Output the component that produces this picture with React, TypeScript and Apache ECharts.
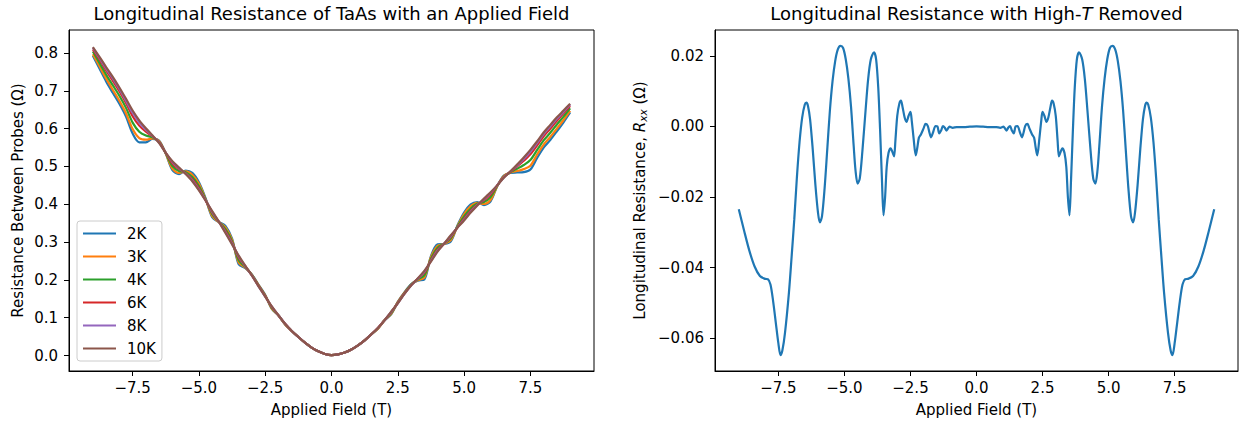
import React, { useEffect, useRef } from "react";
import * as echarts from "echarts";

// ---------- Left panel data ----------
const fieldL = [
  -9, -8.75, -8.5, -8.25, -8, -7.75, -7.5, -7.25, -7, -6.75, -6.5, -6.25,
  -6, -5.75, -5.5, -5.25, -5, -4.75, -4.5, -4.25, -4, -3.75, -3.5, -3.25,
  -3, -2.75, -2.5, -2.25, -2, -1.75, -1.5, -1.25, -1, -0.75, -0.5, -0.25,
  0, 0.25, 0.5, 0.75, 1, 1.25, 1.5, 1.75, 2, 2.25, 2.5, 2.75,
  3, 3.25, 3.5, 3.75, 4, 4.25, 4.5, 4.75, 5, 5.25, 5.5, 5.75,
  6, 6.25, 6.5, 6.75, 7, 7.25, 7.5, 7.75, 8, 8.25, 8.5, 8.75, 9,
];

const temps = ["2K", "3K", "4K", "6K", "8K", "10K"];

const r2K = [
  0.793, 0.759, 0.725, 0.695, 0.666, 0.632, 0.587, 0.564, 0.564, 0.573, 0.568, 0.534,
  0.490, 0.480, 0.489, 0.483, 0.458, 0.416, 0.366, 0.353, 0.343, 0.309, 0.241, 0.231,
  0.214, 0.187, 0.160, 0.123, 0.106, 0.082, 0.065, 0.049, 0.034, 0.021, 0.011, 0.004,
  0.001, 0.003, 0.008, 0.016, 0.027, 0.040, 0.056, 0.071, 0.093, 0.109, 0.142, 0.167,
  0.188, 0.198, 0.201, 0.263, 0.294, 0.295, 0.302, 0.344, 0.378, 0.400, 0.406, 0.398,
  0.408, 0.448, 0.476, 0.483, 0.484, 0.485, 0.492, 0.522, 0.550, 0.570, 0.593, 0.617, 0.643,
];
const r3K = [
  0.797, 0.765, 0.733, 0.703, 0.674, 0.641, 0.599, 0.575, 0.571, 0.574, 0.567, 0.534,
  0.494, 0.483, 0.487, 0.478, 0.454, 0.414, 0.369, 0.353, 0.339, 0.306, 0.246, 0.232,
  0.213, 0.186, 0.159, 0.124, 0.106, 0.082, 0.065, 0.049, 0.034, 0.021, 0.011, 0.004,
  0.001, 0.003, 0.008, 0.016, 0.027, 0.040, 0.056, 0.071, 0.093, 0.110, 0.141, 0.166,
  0.187, 0.199, 0.206, 0.260, 0.290, 0.295, 0.305, 0.342, 0.374, 0.395, 0.404, 0.401,
  0.412, 0.448, 0.475, 0.484, 0.488, 0.493, 0.502, 0.531, 0.558, 0.578, 0.600, 0.623, 0.647,
];
const r4K = [
  0.804, 0.774, 0.743, 0.715, 0.687, 0.655, 0.616, 0.592, 0.582, 0.577, 0.565, 0.535,
  0.501, 0.488, 0.485, 0.472, 0.448, 0.413, 0.374, 0.354, 0.334, 0.302, 0.252, 0.234,
  0.213, 0.185, 0.158, 0.126, 0.106, 0.083, 0.065, 0.049, 0.034, 0.021, 0.011, 0.004,
  0.001, 0.003, 0.008, 0.016, 0.027, 0.040, 0.056, 0.072, 0.093, 0.112, 0.140, 0.165,
  0.187, 0.201, 0.212, 0.256, 0.285, 0.296, 0.310, 0.341, 0.368, 0.389, 0.402, 0.406,
  0.419, 0.449, 0.473, 0.485, 0.494, 0.504, 0.517, 0.543, 0.569, 0.589, 0.611, 0.632, 0.654,
];
const r6K = [
  0.810, 0.783, 0.754, 0.727, 0.699, 0.668, 0.633, 0.608, 0.592, 0.580, 0.564, 0.536,
  0.508, 0.493, 0.482, 0.466, 0.442, 0.411, 0.378, 0.354, 0.329, 0.298, 0.259, 0.236,
  0.212, 0.184, 0.157, 0.128, 0.106, 0.084, 0.065, 0.049, 0.034, 0.021, 0.011, 0.004,
  0.001, 0.003, 0.008, 0.016, 0.027, 0.040, 0.056, 0.073, 0.093, 0.114, 0.139, 0.164,
  0.186, 0.203, 0.219, 0.252, 0.280, 0.296, 0.314, 0.339, 0.362, 0.383, 0.399, 0.411,
  0.426, 0.450, 0.472, 0.486, 0.500, 0.515, 0.532, 0.555, 0.580, 0.600, 0.621, 0.641, 0.660,
];
const r8K = [
  0.814, 0.787, 0.759, 0.733, 0.705, 0.674, 0.642, 0.616, 0.597, 0.581, 0.563, 0.536,
  0.512, 0.495, 0.481, 0.463, 0.439, 0.411, 0.380, 0.354, 0.326, 0.296, 0.262, 0.236,
  0.211, 0.183, 0.156, 0.129, 0.106, 0.084, 0.065, 0.049, 0.034, 0.021, 0.011, 0.004,
  0.001, 0.003, 0.008, 0.016, 0.027, 0.040, 0.056, 0.073, 0.093, 0.115, 0.138, 0.163,
  0.185, 0.203, 0.222, 0.250, 0.277, 0.296, 0.316, 0.339, 0.359, 0.380, 0.398, 0.413,
  0.430, 0.450, 0.471, 0.487, 0.503, 0.520, 0.539, 0.562, 0.586, 0.606, 0.626, 0.645, 0.664,
];
const r10K = [
  0.816, 0.790, 0.763, 0.737, 0.709, 0.679, 0.648, 0.622, 0.601, 0.582, 0.562, 0.536,
  0.514, 0.497, 0.480, 0.461, 0.437, 0.410, 0.382, 0.354, 0.324, 0.294, 0.264, 0.237,
  0.211, 0.183, 0.156, 0.130, 0.106, 0.084, 0.065, 0.049, 0.034, 0.021, 0.011, 0.004,
  0.001, 0.003, 0.008, 0.016, 0.027, 0.040, 0.056, 0.073, 0.093, 0.116, 0.138, 0.163,
  0.185, 0.204, 0.224, 0.248, 0.275, 0.296, 0.318, 0.338, 0.357, 0.378, 0.397, 0.415,
  0.432, 0.450, 0.470, 0.487, 0.505, 0.524, 0.544, 0.566, 0.590, 0.610, 0.630, 0.648, 0.666,
];

// ---------- Right panel data ----------
const fieldR = [
  -9.0, -8.8, -8.6, -8.4, -8.2, -8.0, -7.9, -7.8, -7.7, -7.6, -7.5, -7.42, -7.35, -7.25,
  -7.1, -7.0, -6.9, -6.8, -6.7, -6.6, -6.5, -6.44, -6.38, -6.3, -6.2, -6.1, -6.0, -5.93,
  -5.85, -5.75, -5.65, -5.55, -5.45, -5.35, -5.25, -5.15, -5.05, -4.95, -4.85, -4.75,
  -4.65, -4.58, -4.5, -4.42, -4.32, -4.2, -4.1, -4.0, -3.88, -3.8, -3.72, -3.65, -3.58,
  -3.52, -3.46, -3.4, -3.33, -3.25, -3.17, -3.12, -3.07, -3.0, -2.92, -2.86, -2.8, -2.72,
  -2.65, -2.57, -2.5, -2.45, -2.38, -2.3, -2.24, -2.18, -2.1, -2.0, -1.93, -1.85, -1.78,
  -1.72, -1.65, -1.55, -1.48, -1.41, -1.34, -1.27, -1.2, -1.14, -1.08, -1.02, -0.9, -0.75,
  -0.5, -0.25, 0,
  0.25, 0.5, 0.75, 0.9, 1.02, 1.08, 1.14, 1.2, 1.27, 1.34, 1.41, 1.48, 1.55, 1.65, 1.72,
  1.78, 1.85, 1.93, 2.0, 2.1, 2.18, 2.24, 2.3, 2.38, 2.45, 2.5, 2.57, 2.65, 2.72, 2.8,
  2.86, 2.92, 3.0, 3.07, 3.12, 3.17, 3.25, 3.33, 3.4, 3.46, 3.52, 3.58, 3.65, 3.72, 3.8,
  3.88, 4.0, 4.1, 4.2, 4.32, 4.42, 4.5, 4.58, 4.65, 4.75, 4.85, 4.95, 5.05, 5.15, 5.25,
  5.35, 5.45, 5.55, 5.65, 5.75, 5.85, 5.93, 6.0, 6.1, 6.2, 6.3, 6.38, 6.44, 6.5, 6.6,
  6.7, 6.8, 6.9, 7.0, 7.1, 7.25, 7.35, 7.42, 7.5, 7.6, 7.7, 7.8, 7.9, 8.0, 8.2, 8.4,
  8.6, 8.8, 9.0,
];
const rxx = [
  -0.0235, -0.0295, -0.0352, -0.0397, -0.0424, -0.0432, -0.0433, -0.0448, -0.0495, -0.0555,
  -0.0615, -0.0648, -0.0635, -0.0585, -0.047, -0.037, -0.0265, -0.0145, -0.0045, 0.0025,
  0.0062, 0.0067, 0.0058, 0.002, -0.0065, -0.0165, -0.0245, -0.0272, -0.0255, -0.0175,
  -0.0065, 0.0045, 0.0128, 0.0185, 0.0218, 0.0228, 0.0222, 0.019, 0.0135, 0.0055,
  -0.0055, -0.0125, -0.0162, -0.0148, -0.007, 0.0045, 0.0135, 0.019, 0.021, 0.019,
  0.011, -0.001, -0.015, -0.0252, -0.02, -0.0115, -0.0075, -0.0062, -0.0075, -0.0085,
  -0.004, 0.003, 0.0065, 0.0073, 0.0055, 0.0025, 0.0013, 0.003, 0.0041, 0.0015,
  -0.0035, -0.0082, -0.006, -0.0032, -0.0022, -0.0005, 0.0007, 0.0002, -0.0018, -0.0031,
  -0.0018, 0.0001, 0.0, -0.002, -0.0012, 0.0001, -0.0004, -0.0012, -0.0006, -0.0001,
  -0.0004, -0.0002, -0.0002, -0.0001, 0.0,
  -0.0001, -0.0002, -0.0002, -0.0004, -0.0001, -0.0006, -0.0012, -0.0004, 0.0001, -0.0012,
  -0.002, 0.0, 0.0001, -0.0018, -0.0031, -0.0018, 0.0002, 0.0007, -0.0005, -0.0022,
  -0.0032, -0.006, -0.0082, -0.0035, 0.0015, 0.0041, 0.003, 0.0013, 0.0025, 0.0055,
  0.0073, 0.0065, 0.003, -0.004, -0.0085, -0.0075, -0.0062, -0.0075, -0.0115, -0.02,
  -0.0252, -0.015, -0.001, 0.011, 0.019, 0.021, 0.019, 0.0135, 0.0045, -0.007,
  -0.0148, -0.0162, -0.0125, -0.0055, 0.0055, 0.0135, 0.019, 0.0222, 0.0228, 0.0218,
  0.0185, 0.0128, 0.0045, -0.0065, -0.0175, -0.0255, -0.0272, -0.0245, -0.0165, -0.0065,
  0.002, 0.0058, 0.0067, 0.0062, 0.0025, -0.0045, -0.0145, -0.0265, -0.037, -0.047,
  -0.0585, -0.0635, -0.0648, -0.0615, -0.0555, -0.0495, -0.0448, -0.0433, -0.0432, -0.0424,
  -0.0397, -0.0352, -0.0295, -0.0235,
];

// ---------- Tick labels ----------
const xTicks = [-7.5, -5, -2.5, 0, 2.5, 5, 7.5];
const yTicksL = [0, 0.1, 0.2, 0.3, 0.4, 0.5, 0.6, 0.7, 0.8];
const yTicksR = [-0.06, -0.04, -0.02, 0, 0.02];

const colors = ["#1f77b4", "#ff7f0e", "#2ca02c", "#d62728", "#9467bd", "#8c564b"];

const FONT = "DejaVu Sans";

function fmt(v: number, d: number) {
  const s = Math.abs(v).toFixed(d);
  return v < -1e-12 ? "\u2212" + s : s;
}

export default function App() {
  const ref = useRef<HTMLDivElement>(null);

  useEffect(() => {
    if (!ref.current) return;
    const chart = echarts.init(ref.current, null, { renderer: "svg" });
    const leftData = [r2K, r3K, r4K, r6K, r8K, r10K];

    const axisCommon = {
      axisLine: { show: true, onZero: false, lineStyle: { color: "#000", width: 1 } },
      axisTick: { show: true, length: 5, lineStyle: { color: "#000", width: 1 } },
      splitLine: { show: false },
      nameTextStyle: { fontSize: 15, color: "#000", fontFamily: FONT },
    };

    const xAxisFor = (gridIndex: number) => ({
      type: "value",
      gridIndex,
      min: -9.9,
      max: 9.9,
      name: "Applied Field (T)",
      nameLocation: "middle",
      nameGap: 31,
      ...axisCommon,
      axisTick: { ...axisCommon.axisTick, customValues: xTicks },
      axisLabel: {
        customValues: xTicks,
        formatter: (v: number) => fmt(v, 1),
        fontSize: 15,
        color: "#000",
        fontFamily: FONT,
        margin: 9,
      },
    });

    const seriesL = leftData.map((arr, i) => ({
      type: "line",
      name: temps[i],
      xAxisIndex: 0,
      yAxisIndex: 0,
      data: fieldL.map((x, j) => [x, arr[j]]),
      symbol: "none",
      showSymbol: false,
      smooth: 0.3,
      lineStyle: { width: 2.2, color: colors[i] },
      itemStyle: { color: colors[i] },
      z: 2 + i,
    }));

    const seriesR = {
      type: "line",
      name: "Rxx",
      xAxisIndex: 1,
      yAxisIndex: 1,
      data: fieldR.map((x, j) => [x, rxx[j]]),
      symbol: "none",
      showSymbol: false,
      smooth: 0.3,
      lineStyle: { width: 2.2, color: colors[0] },
      itemStyle: { color: colors[0] },
    };

    const option: any = {
      animation: false,
      backgroundColor: "#fff",
      textStyle: { fontFamily: FONT },
      title: [
        {
          text: "Longitudinal Resistance of TaAs with an Applied Field",
          left: 331.5,
          top: 4,
          textAlign: "center",
          padding: 0,
          textStyle: { fontSize: 18, fontWeight: "normal", color: "#000", fontFamily: FONT },
        },
        {
          text: "{a|Longitudinal Resistance with High-}{i|T}{a| Removed}",
          left: 976.5,
          top: 4,
          textAlign: "center",
          padding: 0,
          textStyle: {
            fontSize: 18,
            fontWeight: "normal",
            color: "#000",
            fontFamily: FONT,
            rich: {
              a: { fontSize: 18, color: "#000", fontFamily: FONT },
              i: { fontSize: 18, color: "#000", fontFamily: FONT, fontStyle: "italic" },
            },
          },
        },
      ],
      legend: {
        data: temps.map((t) => ({ name: t, icon: "rect" })),
        orient: "vertical",
        left: 77,
        top: 221,
        itemWidth: 33,
        itemHeight: 2.2,
        itemGap: 8,
        padding: [5, 6, 5, 6],
        borderColor: "#cccccc",
        borderWidth: 1,
        borderRadius: 3,
        backgroundColor: "rgba(255,255,255,0.8)",
        selectedMode: false,
        textStyle: {
          fontSize: 15,
          lineHeight: 15,
          height: 15,
          color: "#000",
          fontFamily: FONT,
          padding: [0, 0, 0, 6],
        },
      },
      grid: [
        {
          left: 69,
          top: 30,
          width: 525,
          height: 341,
          show: true,
          borderColor: "#000",
          borderWidth: 1,
          backgroundColor: "transparent",
          containLabel: false,
        },
        {
          left: 715,
          top: 30,
          width: 523,
          height: 341,
          show: true,
          borderColor: "#000",
          borderWidth: 1,
          backgroundColor: "transparent",
          containLabel: false,
        },
      ],
      xAxis: [xAxisFor(0), xAxisFor(1)],
      yAxis: [
        {
          type: "value",
          gridIndex: 0,
          min: -0.041,
          max: 0.861,
          name: "Resistance Between Probes (\u03A9)",
          nameLocation: "middle",
          nameGap: 44,
          ...axisCommon,
          axisTick: { ...axisCommon.axisTick, customValues: yTicksL },
          axisLabel: {
            customValues: yTicksL,
            formatter: (v: number) => fmt(v, 1),
            fontSize: 15,
            color: "#000",
            fontFamily: FONT,
            margin: 11,
          },
        },
        {
          type: "value",
          gridIndex: 1,
          min: -0.0693,
          max: 0.0273,
          name: "{a|Longitudinal Resistance, }{i|R}{s|xx}{a| (\u03A9)}",
          nameLocation: "middle",
          nameGap: 67,
          ...axisCommon,
          nameTextStyle: {
            fontSize: 15,
            color: "#000",
            fontFamily: FONT,
            rich: {
              a: { fontSize: 15, color: "#000", fontFamily: FONT },
              i: { fontSize: 15, color: "#000", fontFamily: FONT, fontStyle: "italic" },
              s: {
                fontSize: 10.5,
                color: "#000",
                fontFamily: FONT,
                fontStyle: "italic",
                verticalAlign: "bottom",
                padding: [6, 0, 0, 0],
              },
            },
          },
          axisTick: { ...axisCommon.axisTick, customValues: yTicksR },
          axisLabel: {
            customValues: yTicksR,
            formatter: (v: number) => fmt(v, 2),
            fontSize: 15,
            color: "#000",
            fontFamily: FONT,
            margin: 11,
          },
        },
      ],
      series: [...seriesL, seriesR],
    };

    chart.setOption(option);
    return () => {
      chart.dispose();
    };
  }, []);

  return (
    <div
      ref={ref}
      style={{ position: "fixed", left: 0, top: 0, width: 1243, height: 428, background: "#fff" }}
    />
  );
}
